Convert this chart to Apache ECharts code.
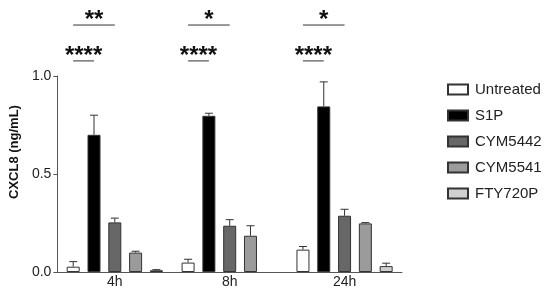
<!DOCTYPE html>
<html>
<head>
<meta charset="utf-8">
<script src="https://cdn.jsdelivr.net/npm/echarts@6/dist/echarts.min.js"></script>
<style>
  html, body {margin: 0; padding: 0; background: #fff;}
  #chart {width: 550px; height: 290px;}
</style>
</head>
<body>
<div id="chart"></div>
<script>
// time points
const timePoints = ['4h', '8h', '24h']
const treatments = ['Untreated', 'S1P', 'CYM5442', 'CYM5541', 'FTY720P']
const fills = ['#ffffff', '#000000', '#676767', '#9b9b9b', '#d0d0d0']

// mean CXCL8 (ng/mL), one array per treatment, cols follow timePoints
const untreated = [0.027, 0.048, 0.114]
const s1p = [0.700, 0.797, 0.845]
const cym5442 = [0.253, 0.236, 0.287]
const cym5541 = [0.099, 0.185, 0.248]
const fty720p = [0.009, null, 0.030]
// upper end of error bars
const untreatedErr = [0.053, 0.065, 0.130]
const s1pErr = [0.800, 0.810, 0.970]
const cym5442Err = [0.275, 0.267, 0.320]
const cym5541Err = [0.106, 0.236, 0.252]
const fty720pErr = [0.012, null, 0.045]

const means = [untreated, s1p, cym5442, cym5541, fty720p]
const errs = [untreatedErr, s1pErr, cym5442Err, cym5541Err, fty720pErr]

// significance brackets: [time index, from treatment, to treatment, height, label]
const sigs = [
  [0, 0, 1, 1.077, '****'], [0, 0, 2, 1.26, '**'],
  [1, 0, 1, 1.077, '****'], [1, 0, 2, 1.26, '*'],
  [2, 0, 1, 1.077, '****'], [2, 0, 2, 1.26, '*']
]

const BAR_W = 13
const PITCH = BAR_W * 1.6
const ink = '#333'

const chart = echarts.init(document.getElementById('chart'))

const barSeries = treatments.map((name, i) => ({
  name,
  type: 'bar',
  data: means[i],
  barWidth: BAR_W,
  barGap: '60%',
  itemStyle: {color: fills[i], borderColor: ink, borderWidth: 1},
  emphasis: {disabled: true},
  z: 2
}))

const errData = []
errs.forEach((arr, i) => arr.forEach((e, t) => {
  if (e != null) errData.push([t, means[i][t], e, i])
}))

const errSeries = {
  type: 'custom',
  data: errData,
  z: 1,
  renderItem(params, api) {
    const off = (api.value(3) - 2) * PITCH
    const lo = api.coord([api.value(0), api.value(1)])
    const hi = api.coord([api.value(0), api.value(2)])
    const x = lo[0] + off
    return {
      type: 'group',
      children: [
        {type: 'line', shape: {x1: x, y1: lo[1], x2: x, y2: hi[1]}, style: {stroke: ink, lineWidth: 1}},
        {type: 'line', shape: {x1: x - 4, y1: hi[1], x2: x + 4, y2: hi[1]}, style: {stroke: ink, lineWidth: 1}}
      ]
    }
  }
}

const sigSeries = {
  type: 'custom',
  data: sigs,
  clip: false,
  z: 3,
  renderItem(params, api) {
    const p = api.coord([api.value(0), api.value(3)])
    const x1 = p[0] + (api.value(1) - 2) * PITCH
    const x2 = p[0] + (api.value(2) - 2) * PITCH
    return {
      type: 'group',
      children: [
        {type: 'line', shape: {x1, y1: p[1], x2, y2: p[1]}, style: {stroke: ink, lineWidth: 1}},
        {type: 'text', x: (x1 + x2) / 2, y: p[1] - 5, style: {
          text: sigs[params.dataIndex][4], fill: '#111', font: 'bold 24px "Liberation Sans", Arial',
          align: 'center', verticalAlign: 'middle'
        }}
      ]
    }
  }
}

chart.setOption({
  animation: false,
  textStyle: {fontFamily: '"Liberation Sans", Arial, sans-serif'},
  grid: {left: 52, right: 148, top: 76, bottom: 18},
  legend: {
    orient: 'vertical',
    left: 442,
    top: 77,
    itemWidth: 20,
    itemHeight: 10,
    itemGap: 11,
    icon: 'rect',
    selectedMode: false,
    textStyle: {fontSize: 15, color: '#222', padding: [0, 0, 0, 2]},
    data: treatments
  },
  xAxis: {
    type: 'category',
    data: timePoints,
    axisLine: {lineStyle: {color: '#555', width: 1}},
    axisTick: {show: false},
    axisLabel: {fontSize: 14, color: '#222', margin: 3}
  },
  yAxis: {
    type: 'value',
    min: 0,
    max: 1,
    interval: 0.5,
    name: 'CXCL8 (ng/mL)',
    nameLocation: 'middle',
    nameGap: 30,
    nameTextStyle: {fontSize: 13, fontWeight: 'bold', color: '#111', padding: [0, 0, 0, 44]},
    axisLine: {show: true, lineStyle: {color: '#555', width: 1}},
    axisTick: {show: true, length: 4, lineStyle: {color: '#555'}},
    axisLabel: {fontSize: 14, color: '#222', margin: 6, formatter: v => v.toFixed(1)},
    splitLine: {show: false}
  },
  series: [...barSeries, errSeries, sigSeries]
})
</script>
</body>
</html>
